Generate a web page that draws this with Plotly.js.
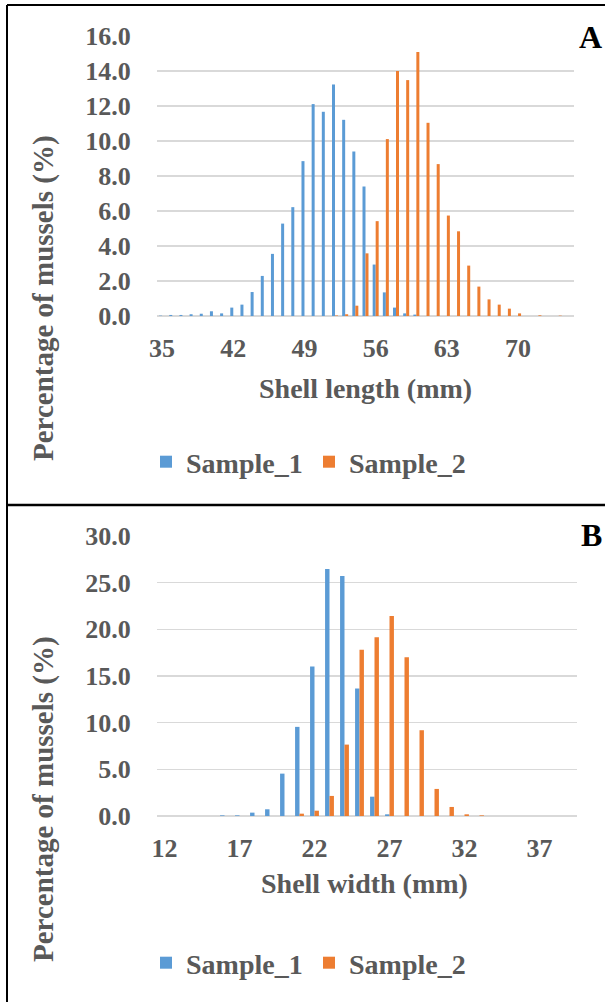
<!DOCTYPE html>
<html>
<head>
<meta charset="utf-8">
<script src="https://cdn.plot.ly/plotly-3.0.1.min.js"></script>
<style>html,body{margin:0;padding:0;background:#fff;}#chart{width:605px;height:1002px;}</style>
</head>
<body>
<div id="chart"></div>
<script>
// Panel A: shell length (mm) categories 35..75
const lengthCats = [35,36,37,38,39,40,41,42,43,44,45,46,47,48,49,50,51,52,53,54,55,56,57,58,59,60,61,62,63,64,65,66,67,68,69,70,71,72,73,74,75];
const lengthSample1 = [0.02,0.06,0.06,0.10,0.13,0.27,0.15,0.48,0.65,1.37,2.29,3.55,5.28,6.22,8.85,12.11,11.67,13.23,11.21,9.40,7.40,2.94,1.35,0.48,0.15,0.08,0,0,0,0,0,0,0,0,0,0,0,0,0,0,0];
const lengthSample2 = [0,0,0,0,0,0,0,0,0,0,0,0,0,0,0,0,0,0.03,0.10,0.59,3.58,5.42,10.11,14.00,13.48,15.08,11.04,8.68,5.74,4.84,2.88,1.68,0.95,0.65,0.42,0.15,0,0.04,0,0.02,0];

// Panel B: shell width (mm) categories 12..39
const widthCats = [12,13,14,15,16,17,18,19,20,21,22,23,24,25,26,27,28,29,30,31,32,33,34,35,36,37,38,39];
const widthSample1 = [0,0,0,0,0.07,0.07,0.36,0.72,4.54,9.55,16.02,26.46,25.71,13.66,2.07,0.18,0,0,0,0,0,0,0,0,0,0,0,0];
const widthSample2 = [0,0,0,0,0,0,0,0,0,0.25,0.57,2.15,7.65,17.80,19.16,21.42,17.02,9.19,2.90,0.97,0.18,0.07,0,0,0,0,0,0];

const seriesNames = ['Sample_1','Sample_2'];
const seriesColors = ['#5B9BD5','#ED7D31'];
const panelLabels = ['A','B'];
const xTitles = ['Shell length (mm)','Shell width (mm)'];
const yTitle = 'Percentage of mussels (%)';

const W = 605, H = 1002;
const px = v => v / W;
const py = v => 1 - v / H;

const FONT = 'Liberation Serif, Times New Roman, serif';
const GRAY = '#595959';
const tickFont = {family: FONT, size: 26, color: GRAY, weight: 'bold'};
const xTitleFont = {family: FONT, size: 28, color: GRAY, weight: 'bold'};
const yTitleFont = {family: FONT, size: 29, color: GRAY, weight: 'bold'};

const traces = [
  {type:'bar', x: lengthCats, y: lengthSample1, name: seriesNames[0], marker:{color: seriesColors[0]}, xaxis:'x', yaxis:'y', legend:'legend'},
  {type:'bar', x: lengthCats, y: lengthSample2, name: seriesNames[1], marker:{color: seriesColors[1]}, xaxis:'x', yaxis:'y', legend:'legend'},
  {type:'bar', x: widthCats, y: widthSample1, name: seriesNames[0], marker:{color: seriesColors[0]}, xaxis:'x2', yaxis:'y2', legend:'legend2'},
  {type:'bar', x: widthCats, y: widthSample2, name: seriesNames[1], marker:{color: seriesColors[1]}, xaxis:'x2', yaxis:'y2', legend:'legend2'}
];

const xCommon = {
  showgrid:false, zeroline:false, showline:false,
  ticks:'outside', ticklen:9, tickcolor:'rgba(0,0,0,0)',
  tickfont: tickFont, fixedrange:true
};
const yCommon = {
  showgrid:true, gridcolor:'#D9D9D9', gridwidth:1.5,
  zeroline:true, zerolinecolor:'#D9D9D9', zerolinewidth:1.5,
  showline:false, ticks:'outside', ticklen:20, tickcolor:'rgba(0,0,0,0)',
  tickformat:'.1f', tickfont: tickFont, fixedrange:true
};

const legendCommon = {
  orientation:'h', xanchor:'left', yanchor:'middle',
  font:{family: FONT, size: 28, color: GRAY, weight:'bold'},
  bgcolor:'rgba(0,0,0,0)', traceorder:'normal', entrywidth:118
};

const layout = {
  width: W, height: H,
  margin:{l:0,r:0,t:0,b:0},
  paper_bgcolor:'#fff', plot_bgcolor:'#fff',
  barmode:'group', bargap:0.41, bargroupgap:0,
  xaxis: Object.assign({}, xCommon, {domain:[px(157), px(574)], range:[34.5, 75.5], tick0:35, dtick:7, anchor:'y'}),
  yaxis: Object.assign({}, yCommon, {domain:[py(316), py(36)], range:[0,16], dtick:2, anchor:'x'}),
  xaxis2: Object.assign({}, xCommon, {domain:[px(157), px(577)], range:[11.5, 39.5], tick0:12, dtick:5, anchor:'y2'}),
  yaxis2: Object.assign({}, yCommon, {domain:[py(816), py(536)], range:[0,30], dtick:5, anchor:'x2'}),
  legend: Object.assign({}, legendCommon, {x: px(146), y: py(462)}),
  legend2: Object.assign({}, legendCommon, {x: px(146), y: py(963)}),
  showlegend:true,
  annotations: [
    {text: xTitles[0], xref:'paper', yref:'paper', x: px(365), y: py(389), xanchor:'center', yanchor:'middle', showarrow:false, font: xTitleFont},
    {text: xTitles[1], xref:'paper', yref:'paper', x: px(364), y: py(883), xanchor:'center', yanchor:'middle', showarrow:false, font: xTitleFont},
    {text: yTitle, xref:'paper', yref:'paper', x: px(43), y: py(298), xanchor:'center', yanchor:'middle', textangle:-90, showarrow:false, font: yTitleFont},
    {text: yTitle, xref:'paper', yref:'paper', x: px(43), y: py(799), xanchor:'center', yanchor:'middle', textangle:-90, showarrow:false, font: yTitleFont},
    {text: panelLabels[0], xref:'paper', yref:'paper', x: px(590), y: py(37), xanchor:'center', yanchor:'middle', showarrow:false, font:{family: FONT, size: 32, color:'#000', weight:'bold'}},
    {text: panelLabels[1], xref:'paper', yref:'paper', x: px(591), y: py(535), xanchor:'center', yanchor:'middle', showarrow:false, font:{family: FONT, size: 32, color:'#000', weight:'bold'}}
  ],
  shapes: [
    {type:'line', xref:'paper', yref:'paper', x0: px(7), x1: px(7), y0: py(5), y1: 0, line:{color:'#000', width:2}},
    {type:'line', xref:'paper', yref:'paper', x0: px(7), x1: 1, y0: py(5), y1: py(5), line:{color:'#000', width:2}},
    {type:'line', xref:'paper', yref:'paper', x0: px(7), x1: 1, y0: py(505), y1: py(505), line:{color:'#000', width:2.5}}
  ]
};

Plotly.newPlot('chart', traces, layout, {displayModeBar:false, staticPlot:true});
</script>
</body>
</html>
